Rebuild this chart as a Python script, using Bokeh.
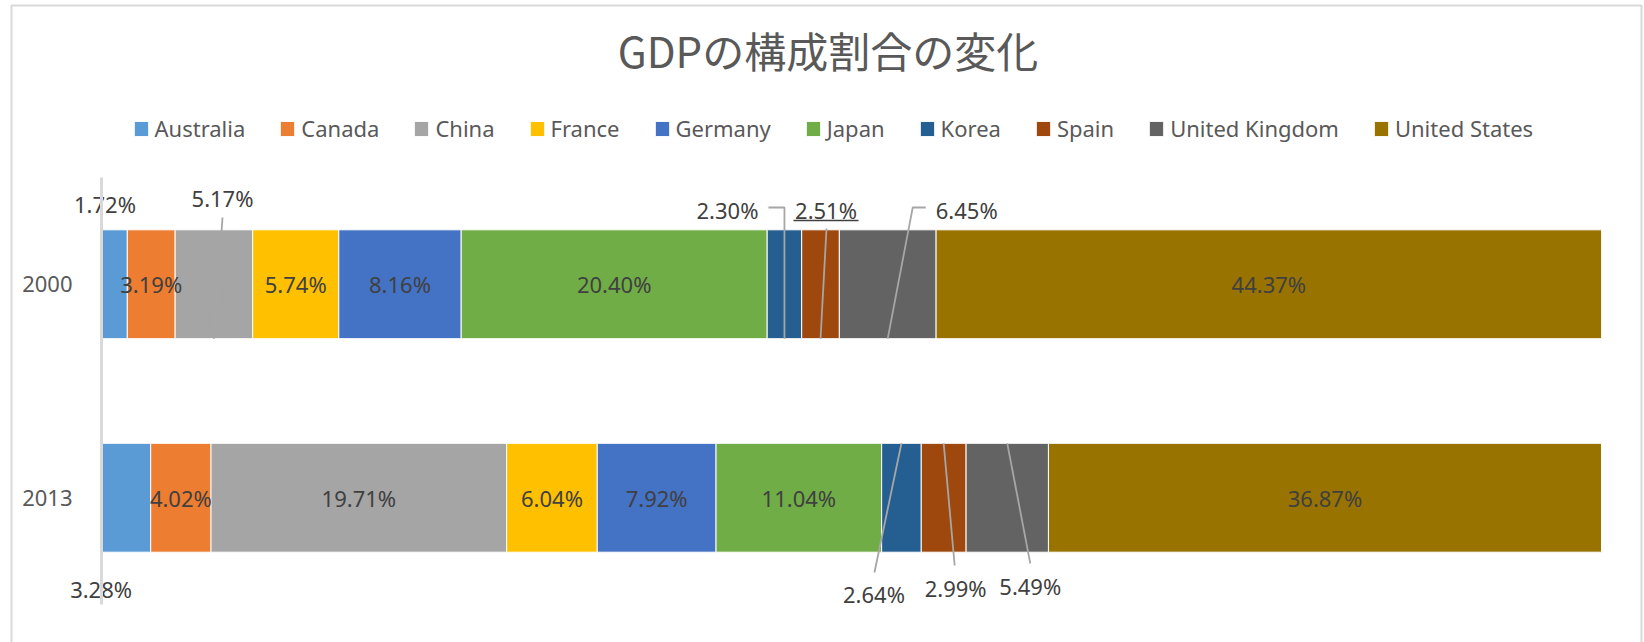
from bokeh.plotting import figure
from bokeh.models import ColumnDataSource, Range1d, FixedTicker, Label, LinearAxis
from bokeh.embed import file_html
from bokeh.resources import INLINE
from bokeh.core.properties import value

# ---------------- data ----------------
title_text = "GDPの構成割合の変化"
years = ["2000", "2013"]
countries = ["Australia", "Canada", "China", "France", "Germany",
             "Japan", "Korea", "Spain", "United Kingdom", "United States"]
share_2000 = [1.72, 3.19, 5.17, 5.74, 8.16, 20.40, 2.30, 2.51, 6.45, 44.37]
share_2013 = [3.28, 4.02, 19.71, 6.04, 7.92, 11.04, 2.64, 2.99, 5.49, 36.87]
colors = ["#5B9BD5", "#ED7D31", "#A5A5A5", "#FFC000", "#4472C4",
          "#70AD47", "#255E91", "#9E480E", "#636363", "#997300"]

shares = {"2000": share_2000, "2013": share_2013}

# ---------------- layout (page pixels) ----------------
PAGE = 0
W, H = 1644, 642
AX_SX, BAR_END_SX = 101, 1601          # page x of 0 % and 100 %
CAT_TOP_SY, CAT_BOT_SY = 177, 604      # page y of category band
XMAX = 100.0
PX_X = (BAR_END_SX - AX_SX) / XMAX
PX_Y = (CAT_BOT_SY - CAT_TOP_SY) / len(years)
BAR_H = 0.51
HALF_PX = BAR_H * PX_Y / 2


def dx_(sx):
    return (sx - AX_SX) / PX_X


def dy_(sy):
    return (CAT_BOT_SY - sy) / PX_Y


# label placement (pixel offsets from segment centre); others sit inside
label_pos = {
    ("2000", "Australia"): (-9.4, -80.75),
    ("2000", "China"): (8.6, -86.75),
    ("2000", "Korea"): (-57, -74.75),
    ("2000", "Spain"): (5.5, -74.75),
    ("2000", "United Kingdom"): (79, -74.75),
    ("2013", "Australia"): (-25, 90.75),
    ("2013", "Korea"): (-27.5, 95.75),
    ("2013", "Spain"): (12, 89.75),
    ("2013", "United Kingdom"): (23, 87.75),
}
leader_pts = {
    ("2000", "China"): [(8.6, -66.75), (0, HALF_PX)],
    ("2000", "Korea"): [(-16, -76.75), (0, -76.75), (0, HALF_PX)],
    ("2000", "Spain"): [(6, -55.75), (0, HALF_PX)],
    ("2000", "United Kingdom"): [(38, -76.75), (25, -76.75), (0, HALF_PX)],
    ("2013", "Korea"): [(-27, 74.75), (0, -HALF_PX)],
    ("2013", "Spain"): [(11, 67.75), (0, -HALF_PX)],
    ("2013", "United Kingdom"): [(23, 65.75), (0, -HALF_PX)],
}
underline_pts = {
    ("2000", "Spain"): [(-27, -63.75), (38, -63.75)],
}

ypos = [len(years) - i - 0.5 for i in range(len(years))]
ymap = dict(zip(years, ypos))

# ---------------- figure ----------------
p = figure(width=W, height=H, output_backend="svg", toolbar_location=None,
           x_range=Range1d(dx_(PAGE), dx_(PAGE + W)),
           y_range=Range1d(dy_(PAGE + H), dy_(PAGE)),
           x_axis_location=None, y_axis_location=None,
           min_border=0)
p.title.visible = False
p.outline_line_color = None
p.background_fill_color = "white"
p.border_fill_color = "white"
p.xgrid.visible = False
p.ygrid.visible = False

# chart border (left, top, right)
p.line([dx_(11), dx_(11), dx_(1641), dx_(1641)],
       [dy_(PAGE + H + 10), dy_(5), dy_(5), dy_(PAGE + H + 10)],
       line_color="#D9D9D9", line_width=2)

bar_data = {"y": ypos}
for j, c in enumerate(countries):
    bar_data[c] = [shares[yr][j] for yr in years]
src = ColumnDataSource(bar_data)

p.hbar_stack(countries, y="y", height=BAR_H, color=colors, source=src,
             line_color="white", line_width=1, legend_label=countries)

# data labels
lx, ly, lt, ldx, ldy = [], [], [], [], []
lines_x, lines_y = [], []
ul_x, ul_y = [], []


def to_data(cx, cy, dx, dy):
    return cx + dx / PX_X, cy - dy / PX_Y


for yr in years:
    cum = 0.0
    for j, c in enumerate(countries):
        v = shares[yr][j]
        cx = cum + v / 2
        cy = ymap[yr]
        cum += v
        dx, dy = label_pos.get((yr, c), (0, 0))
        lx.append(cx)
        ly.append(cy)
        lt.append(f"{v:.2f}%")
        ldx.append(dx)
        ldy.append(dy)
        if (yr, c) in leader_pts:
            pts = [to_data(cx, cy, a, b) for a, b in leader_pts[(yr, c)]]
            lines_x.append([q[0] for q in pts])
            lines_y.append([q[1] for q in pts])
        if (yr, c) in underline_pts:
            pts = [to_data(cx, cy, a, b) for a, b in underline_pts[(yr, c)]]
            ul_x.append([q[0] for q in pts])
            ul_y.append([q[1] for q in pts])

p.multi_line(lines_x, lines_y, line_color="#A6A6A6", line_width=1.8)
p.multi_line(ul_x, ul_y, line_color="#404040", line_width=1.3)

lsrc = ColumnDataSource(dict(x=lx, y=ly, text=lt, dx=ldx, dy=ldy))
p.text(x="x", y="y", text="text", x_offset="dx", y_offset="dy", source=lsrc,
       text_align="center", text_baseline="middle",
       text_font=value("Noto Sans"), text_font_size="22px",
       text_color="#404040")

# title
p.add_layout(Label(x=dx_(827.5), y=dy_(49),
                   text=title_text, text_font="Noto Sans CJK JP",
                   text_font_size="42px", text_color="#595959",
                   text_align="center", text_baseline="middle"))

# category axis drawn at x = 0 inside the frame
ax = LinearAxis(fixed_location=0, bounds=(0, len(years)))
ax.ticker = FixedTicker(ticks=ypos)
ax.major_label_overrides = {y: yr for y, yr in zip(ypos, years)}
ax.axis_line_color = "#D9D9D9"
ax.axis_line_width = 3
ax.major_tick_line_color = None
ax.minor_tick_line_color = None
ax.major_label_standoff = 23
ax.major_label_text_font = "Noto Sans"
ax.major_label_text_font_size = "22px"
ax.major_label_text_color = "#595959"
p.add_layout(ax, "left")

# legend (bar swatches are drawn at 80 % of the glyph box)
leg = p.legend[0]
leg.orientation = "horizontal"
leg.location = (131.5 - PAGE, H - (143 - PAGE))
leg.glyph_width = 18
leg.glyph_height = 19
leg.label_standoff = 5
leg.spacing = 33
leg.padding = 0
leg.margin = 0
leg.border_line_color = None
leg.background_fill_alpha = 0
leg.label_text_font = "Noto Sans"
leg.label_text_font_size = "22px"
leg.label_text_color = "#595959"

open("out.html", "w").write(file_html(p, INLINE))
